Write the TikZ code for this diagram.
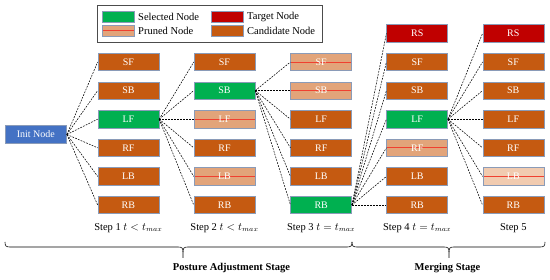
\documentclass[tikz,border=0pt]{standalone}
\usepackage{fontspec}
\setmainfont{Liberation Serif}
\definecolor{selg}{HTML}{00B050}
\definecolor{cand}{HTML}{C55A11}
\definecolor{targ}{HTML}{C00000}
\definecolor{prun}{HTML}{E2A47A}
\definecolor{prunl}{HTML}{F1CBB0}
\definecolor{strk}{HTML}{F04030}
\definecolor{bord}{HTML}{8A9BB8}
\definecolor{initb}{HTML}{4472C4}
\tikzset{
  box/.style={draw=bord, line width=0.5pt, minimum width=61pt, minimum height=17.5pt, inner sep=0pt, text=white, font=\fontsize{10}{12}\selectfont},
  selbox/.style={box, fill=selg},
  candbox/.style={box, fill=cand},
  targbox/.style={box, fill=targ},
  prunbox/.style={box, fill=prun, path picture={\draw[strk, line width=0.7pt] (path picture bounding box.west) -- (path picture bounding box.east);}},
  prunlbox/.style={box, fill=prunl, path picture={\draw[strk, line width=0.7pt] (path picture bounding box.west) -- (path picture bounding box.east);}},
  conn/.style={black, line width=0.55pt, dash pattern=on 1.8pt off 1.2pt},
  steplab/.style={font=\fontsize{10.5}{12}\selectfont},
  stagelab/.style={font=\bfseries\fontsize{10.5}{12}\selectfont},
  legtext/.style={anchor=west, font=\fontsize{10.5}{12}\selectfont, inner sep=0pt},
}
\begin{document}
\begin{tikzpicture}[x=1pt,y=-1pt]
\useasboundingbox (0,0) rectangle (550,280);
% legend
\node[draw=black!70, line width=0.6pt, minimum width=225pt, minimum height=37pt, inner sep=0pt] (legend) at (209.5,23.5) {};
\node[draw=bord, fill=selg, minimum width=32pt, minimum height=11pt, inner sep=0pt] (lsel) at (118,16.5) {};
\node[draw=bord, fill=prun, minimum width=32pt, minimum height=11pt, inner sep=0pt, path picture={\draw[strk, line width=0.7pt] (path picture bounding box.west) -- (path picture bounding box.east);}] (lprun) at (118,30.5) {};
\node[draw=bord, fill=targ, minimum width=32pt, minimum height=11pt, inner sep=0pt] (ltarg) at (227,16.5) {};
\node[draw=bord, fill=cand, minimum width=32pt, minimum height=11pt, inner sep=0pt] (lcand) at (227,30.5) {};
\node[legtext] (tsel) at (138,16.5) {Selected Node};
\node[legtext] (tprun) at (138,30.5) {Pruned Node};
\node[legtext] (ttarg) at (247,16.5) {Target Node};
\node[legtext] (tcand) at (247,30.5) {Candidate Node};
% init
\node[box, fill=initb, minimum width=61.7pt] (init) at (35.8,134.5) {Init Node};
% column 1
\node[candbox] (a1) at (128.4,62) {SF};
\node[candbox] (a2) at (128.4,90.6) {SB};
\node[selbox]  (a3) at (128.4,119.2) {LF};
\node[candbox] (a4) at (128.4,147.8) {RF};
\node[candbox] (a5) at (128.4,176.4) {LB};
\node[candbox] (a6) at (128.4,205) {RB};
% column 2
\node[candbox] (b1) at (224.5,62) {SF};
\node[selbox]  (b2) at (224.5,90.6) {SB};
\node[prunbox] (b3) at (224.5,119.2) {LF};
\node[candbox] (b4) at (224.5,147.8) {RF};
\node[prunbox] (b5) at (224.5,176.4) {LB};
\node[candbox] (b6) at (224.5,205) {RB};
% column 3
\node[prunbox] (c1) at (321.2,62) {SF};
\node[prunbox] (c2) at (321.2,90.6) {SB};
\node[candbox] (c3) at (321.2,119.2) {LF};
\node[candbox] (c4) at (321.2,147.8) {RF};
\node[candbox] (c5) at (321.2,176.4) {LB};
\node[selbox]  (c6) at (321.2,205) {RB};
% column 4
\node[targbox] (d0) at (417.2,33.4) {RS};
\node[candbox] (d1) at (417.2,62) {SF};
\node[candbox] (d2) at (417.2,90.6) {SB};
\node[selbox]  (d3) at (417.2,119.2) {LF};
\node[prunbox] (d4) at (417.2,147.8) {RF};
\node[candbox] (d5) at (417.2,176.4) {LB};
\node[candbox] (d6) at (417.2,205) {RB};
% column 5
\node[targbox] (e0) at (513.3,33.4) {RS};
\node[candbox] (e1) at (513.3,62) {SF};
\node[candbox] (e2) at (513.3,90.6) {SB};
\node[candbox] (e3) at (513.3,119.2) {LF};
\node[candbox] (e4) at (513.3,147.8) {RF};
\node[prunlbox] (e5) at (513.3,176.4) {LB};
\node[candbox] (e6) at (513.3,205) {RB};
% connectors
\foreach \n in {a1,a2,a3,a4,a5,a6} \draw[conn] (init.east) -- (\n.west);
\foreach \n in {b1,b2,b3,b4,b5,b6} \draw[conn] (a3.east) -- (\n.west);
\foreach \n in {c1,c2,c3,c4,c5,c6} \draw[conn] (b2.east) -- (\n.west);
\foreach \n in {d0,d1,d2,d3,d4,d5,d6} \draw[conn] (c6.east) -- (\n.west);
\foreach \n in {e0,e1,e2,e3,e4,e5,e6} \draw[conn] (d3.east) -- (\n.west);
% step labels
\node[steplab] (s1) at (128.4,228) {Step 1 $t<t_{max}$};
\node[steplab] (s2) at (224.5,228) {Step 2 $t<t_{max}$};
\node[steplab] (s3) at (321.2,228) {Step 3 $t=t_{max}$};
\node[steplab] (s4) at (417.2,228) {Step 4 $t=t_{max}$};
\node[steplab] (s5) at (513.3,228) {Step 5};
% braces
\draw[line width=0.6pt] (5,242) .. controls (5,246) and (6,247) .. (10,247) -- (178,247) .. controls (182,247) and (183,248) .. (183,252) -- (183,258);
\draw[line width=0.6pt] (352,242) .. controls (352,246) and (351,247) .. (347,247) -- (188,247) .. controls (184,247) and (183,248) .. (183,252);
\draw[line width=0.6pt] (352,242) .. controls (352,246) and (353,247) .. (357,247) -- (444,247) .. controls (448,247) and (449,248) .. (449,252) -- (449,258);
\draw[line width=0.6pt] (545,242) .. controls (545,246) and (544,247) .. (540,247) -- (454,247) .. controls (450,247) and (449,248) .. (449,252);
% stage labels
\node[stagelab] (st1) at (231.5,268.5) {Posture Adjustment Stage};
\node[stagelab] (st2) at (447.5,268.5) {Merging Stage};
\end{tikzpicture}
\end{document}
